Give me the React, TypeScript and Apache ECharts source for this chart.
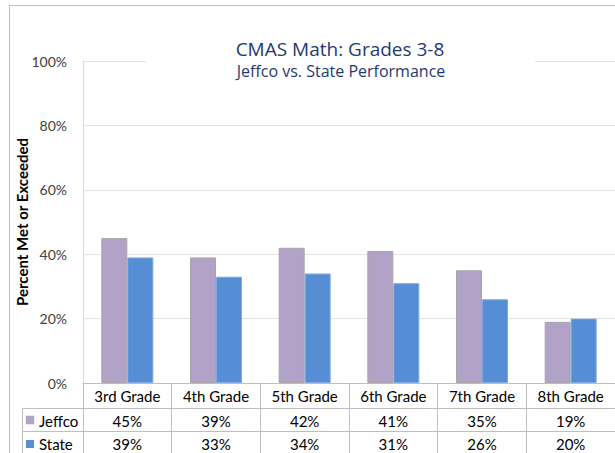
import React, { useEffect, useRef } from "react";
import * as echarts from "echarts";

const categories = ["3rd Grade", "4th Grade", "5th Grade", "6th Grade", "7th Grade", "8th Grade"];
const jeffco = [45, 39, 42, 41, 35, 19];
const state = [39, 33, 34, 31, 26, 20];
const seriesNames = ["Jeffco", "State"];
const colors = ["#B3A2C7", "#558ED5"];
const titleText = "CMAS Math: Grades 3-8";
const subtitleText = "Jeffco vs. State Performance";
const yAxisTitle = "Percent Met or Exceeded";

const FONT = "Lato, 'Liberation Sans', sans-serif";
const TITLE_FONT = "'Open Sans', 'DejaVu Sans', sans-serif";

export default function App() {
  const ref = useRef<HTMLDivElement>(null);
  useEffect(() => {
    if (!ref.current) return;
    const chart = echarts.init(ref.current, undefined, { renderer: "svg" });
    const option: any = {
      animation: false,
      backgroundColor: "#ffffff",
      grid: { left: 83, top: 61, width: 540, height: 322, containLabel: false },
      xAxis: {
        type: "category",
        data: categories,
        boundaryGap: true,
        axisLine: { show: true, lineStyle: { color: "#BFBFBF", width: 1 } },
        axisTick: { show: true, length: 72, lineStyle: { color: "#BFBFBF", width: 1 } },
        axisLabel: {
          interval: 0,
          margin: 0,
          formatter: (v: string, i: number) => `{c|${v}}\n{j|${jeffco[i]}%}\n{s|${state[i]}%}`,
          rich: {
            c: { fontFamily: FONT, fontSize: 15, color: "#000000", lineHeight: 26 },
            j: { fontFamily: FONT, fontSize: 15, color: "#000000", lineHeight: 23 },
            s: { fontFamily: FONT, fontSize: 15, color: "#000000", lineHeight: 23 },
          },
        },
      },
      yAxis: {
        type: "value",
        min: 0,
        max: 100,
        interval: 20,
        name: yAxisTitle,
        nameLocation: "middle",
        nameGap: 61,
        nameMoveOverlap: false,
        nameTextStyle: { fontFamily: FONT, fontSize: 15, fontWeight: "bold", color: "#000000", verticalAlign: "middle" },
        axisLine: { show: true, lineStyle: { color: "#D9D9D9" } },
        axisTick: { show: false },
        splitLine: { show: true, lineStyle: { color: "#E3E3E3", width: 1 } },
        axisLabel: {
          margin: 16,
          fontFamily: FONT,
          fontSize: 14,
          color: "#404040",
          formatter: "{value}%",
        },
      },
      series: [
        {
          name: seriesNames[0],
          type: "bar",
          data: jeffco,
          barWidth: 26,
          barGap: "0%",
          itemStyle: { color: colors[0], borderColor: "#A6A6A6", borderWidth: 1 },
        },
        {
          name: seriesNames[1],
          type: "bar",
          data: state,
          barWidth: 26,
          barGap: "0%",
          itemStyle: { color: colors[1], borderColor: "#7FA8E0", borderWidth: 1 },
        },
      ],
      graphic: [
        // outer frame
        { type: "line", z: 50, shape: { x1: 9, y1: 5.5, x2: 615, y2: 5.5 }, style: { stroke: "#BFBFBF", lineWidth: 1 } },
        { type: "line", z: 50, shape: { x1: 9.5, y1: 5, x2: 9.5, y2: 453 }, style: { stroke: "#BFBFBF", lineWidth: 1 } },
        // title box
        { type: "rect", z: 100, shape: { x: 146, y: 36, width: 389, height: 50 }, style: { fill: "#ffffff" } },
        {
          type: "text", z: 101, x: 340, y: 49,
          style: { text: titleText, font: `19px ${TITLE_FONT}`, fill: "#1F3A72", align: "center", verticalAlign: "middle" },
        },
        {
          type: "text", z: 101, x: 341, y: 71,
          style: { text: subtitleText, font: `16px ${TITLE_FONT}`, fill: "#1F3A72", align: "center", verticalAlign: "middle" },
        },
        // table lines
        { type: "line", z: 50, shape: { x1: 22, y1: 408.5, x2: 615, y2: 408.5 }, style: { stroke: "#BFBFBF", lineWidth: 1 } },
        { type: "line", z: 50, shape: { x1: 22, y1: 431.5, x2: 615, y2: 431.5 }, style: { stroke: "#BFBFBF", lineWidth: 1 } },
        { type: "line", z: 50, shape: { x1: 22.5, y1: 408, x2: 22.5, y2: 453 }, style: { stroke: "#BFBFBF", lineWidth: 1 } },
        // legend keys
        { type: "rect", z: 50, shape: { x: 26, y: 416, width: 8, height: 8 }, style: { fill: colors[0], stroke: "#A6A6A6", lineWidth: 0.5 } },
        { type: "rect", z: 50, shape: { x: 26, y: 440, width: 8, height: 8 }, style: { fill: colors[1] } },
        {
          type: "text", z: 50, x: 39, y: 420.5,
          style: { text: seriesNames[0], font: `15px ${FONT}`, fill: "#000000", align: "left", verticalAlign: "middle" },
        },
        {
          type: "text", z: 50, x: 39, y: 444,
          style: { text: seriesNames[1], font: `15px ${FONT}`, fill: "#000000", align: "left", verticalAlign: "middle" },
        },
      ],
    };
    chart.setOption(option);
    return () => chart.dispose();
  }, []);
  return (
    <div
      ref={ref}
      style={{ position: "absolute", left: 0, top: 0, width: 615, height: 453, overflow: "hidden" }}
    />
  );
}
